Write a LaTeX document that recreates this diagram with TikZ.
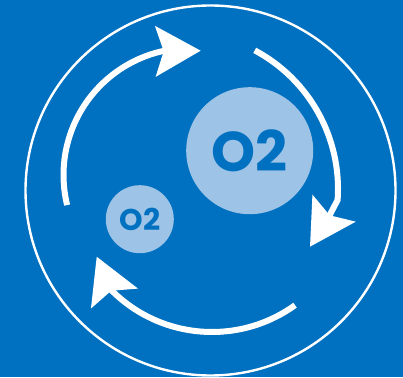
\documentclass[tikz,border=0pt]{standalone}
\usepackage{fontspec}
\setmainfont{Poppins}
\usetikzlibrary{arrows.meta}
\definecolor{deepblue}{HTML}{0070C0}
\definecolor{paleblue}{HTML}{9DC3E6}
\tikzset{
  ring/.style={draw=white, line width=2.4pt},
  bubble/.style={circle, fill=paleblue, text=deepblue, inner sep=0pt},
  cyclearr/.style={draw=white, line width=6pt, -{Stealth[length=45pt, width=50pt, inset=8pt]}}
}

\begin{document}
\begin{tikzpicture}[x=1pt,y=1pt]
\fill[deepblue] (0,0) rectangle (403,377);
\draw[ring] (210.5,186.5) circle[radius=185];

% the two oxygen bubbles
\node[bubble, minimum size=127pt, font=\bfseries\fontsize{56}{56}\selectfont] (bigbubble) at (249.7,226.3) {O2};
\node[bubble, minimum size=68pt, font=\bfseries\fontsize{30}{30}\selectfont] (smallbubble) at (139.8,157.8) {O2};

% centres of the three arcs and the tips of the arrows
\coordinate (hubA) at (190.5,202);
\coordinate (hubB) at (181,188);
\coordinate (hubC) at (212,187);
\coordinate (tipA) at (200.7,326.3);
\coordinate (notchB) at (329.5,161.5);
\coordinate (tipB) at (310,130.3);
\coordinate (tipC) at (96.7,120.3);

\draw[cyclearr] (hubA) ++(193.7:127) arc[start angle=193.7, end angle=103, radius=127] -- (tipA);
\draw[cyclearr] (hubB) ++(62:157) arc[start angle=62, end angle=-4, radius=157] -- (notchB) -- (tipB);
\draw[cyclearr] (hubC) ++(-54.2:142) arc[start angle=-54.2, end angle=-135.6, radius=142] -- (tipC);
\end{tikzpicture}
\end{document}
